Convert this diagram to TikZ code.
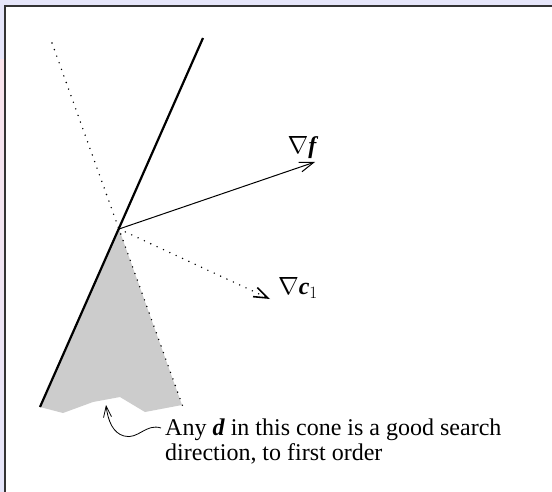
\documentclass[tikz,border=0pt]{standalone}
\usepackage{fontspec}
\setmainfont{Liberation Serif}
\usetikzlibrary{arrows.meta}
\definecolor{lavender}{RGB}{230,230,250}
\definecolor{blush}{RGB}{250,228,236}
\definecolor{conegray}{RGB}{204,204,204}
\begin{document}
\begin{tikzpicture}[x=1pt,y=-1pt,font=\fontsize{24}{25}\selectfont,
  barb/.style={-{Straight Barb[length=14pt,width=10pt]}},
  dots/.style={line width=1.6pt,line cap=round,dash pattern=on 0pt off 7pt}]
\useasboundingbox (0,0) rectangle (552,492);
% window frame
\fill[lavender] (0,0) rectangle (552,492);
\shade[top color=blush,bottom color=lavender] (0,60) rectangle (6,492);
\fill[white] (6,7) rectangle (552,492);
\draw[line width=2pt,black!80] (5,492) -- (5,6) -- (552,6);
% points
\coordinate (O) at (119,229);
\coordinate (T) at (203,38);
\coordinate (B) at (40,407);
\coordinate (P) at (52,43);
\coordinate (Q) at (183,407);
\coordinate (F) at (315,162);
\coordinate (C) at (270,299);
% the cone
\fill[conegray] (O) -- (B) -- (63,413) -- (93,402) -- (120,397) -- (145,412)
   -- (182,405) -- cycle;
\draw[line width=2.2pt] (B) -- (T);
\draw[dots] (P) -- (Q);
\draw[barb,line width=1pt] (O) -- (F);
\draw[barb,dots] (O) -- (C);
\node at (303,148) (gf) {$\nabla$\textbf{\textit{f}}};
\node at (298,288) (gc) {$\nabla$\textbf{\textit{c}}$_1$};
\node[anchor=base west,inner sep=0pt,align=left] at (165,460) (txt)
   {Any \textbf{\textit{d}} in this cone is a good search\\direction, to first order};
\coordinate (S) at (161,428);
\coordinate (A) at (106,405);
\draw[-{Straight Barb[length=11pt,width=8pt]},line width=0.8pt]
   (S) .. controls (146,423) and (138,440) .. (124,436)
   .. controls (113,433) and (108,421) .. (A);
\end{tikzpicture}
\end{document}
